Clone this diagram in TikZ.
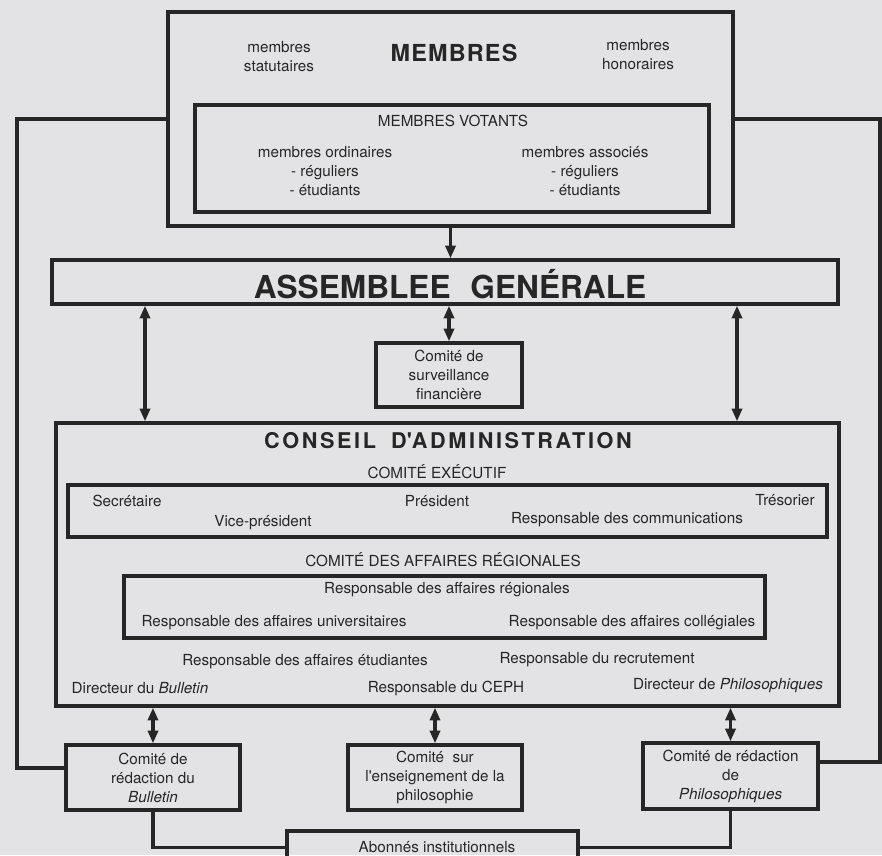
\documentclass[tikz,border=0pt]{standalone}
\usepackage{fontspec}
\setmainfont{TeX Gyre Heros}
\usetikzlibrary{positioning,fit,arrows.meta}
\definecolor{paper}{HTML}{E3E3E5}
\definecolor{ink}{HTML}{262626}
\tikzstyle{box} = [draw=ink, line width=1mm, inner sep=0pt]
\tikzstyle{wire} = [draw=ink, line width=1mm]
\tikzstyle{tip} = [wire, -{Triangle[length=3.8mm,width=3mm]}]
\tikzstyle{twoway} = [wire, {Triangle[length=3.8mm,width=3mm]}-{Triangle[length=3.8mm,width=3mm]}]
\tikzstyle{txt} = [text=ink, align=center, inner sep=0pt, font=\fontsize{13}{16.2}\selectfont]
\tikzstyle{head} = [text=ink, inner sep=0pt]

\begin{document}
\begin{tikzpicture}[x=0.3mm, y=-0.3mm]
\path[use as bounding box, fill=paper] (0,0) rectangle (882,855);
\clip (0,0) rectangle (882,855);

% boxes
\node (mem) [box, fit={(168,12) (733,226)}] {};
\node (vot) [box, fit={(195,105) (709,212)}] {};
\node (ag) [box, fit={(52,260) (838,304)}] {};
\node (surv) [box, fit={(376,343) (522,407)}] {};
\node (ca) [box, fit={(56,423) (839,706)}] {};
\node (exe) [box, fit={(68,485) (827,537)}] {};
\node (reg) [box, fit={(124,576) (765,638)}] {};
\node (bul) [box, fit={(66,745) (240,810)}] {};
\node (ens) [box, fit={(348,745) (522,810)}] {};
\node (phi) [box, fit={(643,743) (818,809)}] {};
\node (abo) [box, fit={(287,831) (578,864)}] {};

% membres
\node (memT) [head, font=\fontsize{20}{24}\selectfont\bfseries\addfontfeatures{LetterSpace=5}] at (454,53) {MEMBRES};
\node (stat) [txt] at (279,57) {membres\\statutaires};
\node (hon) [txt] at (638,55) {membres\\honoraires};
\node (votT) [txt] at (453,121) {MEMBRES VOTANTS};
\node (ord) [txt] at (325,171) {membres ordinaires\\- réguliers\\- étudiants};
\node (asso) [txt] at (585,171) {membres associés\\- réguliers\\- étudiants};

% assemblee
\node (agT) [head, font=\fontsize{27}{32}\selectfont\bfseries] at (450,284) {ASSEMBLEE\hspace{0.35em} GENÉRALE};
\node (survT) [txt] at (surv) {Comité de\\surveillance\\financière};

% conseil
\node (caT) [head, font=\fontsize{18.5}{22}\selectfont\bfseries\addfontfeatures{LetterSpace=12}] at (448,441) {CONSEIL\hspace{0.3em} D\textquotesingle ADMINISTRATION};
\node (exeT) [txt] at (437,472) {COMITÉ EXÉCUTIF};
\node (sec) [txt] at (127,501) {Secrétaire};
\node (pres) [txt] at (437,501) {Président};
\node (tres) [txt] at (785,500) {Trésorier};
\node (vice) [txt] at (263,523) {Vice-président};
\node (comm) [txt] at (627,520) {Responsable des communications};
\node (regT) [txt] at (443,560) {COMITÉ DES AFFAIRES RÉGIONALES};
\node (rreg) [txt] at (447,590) {Responsable des affaires régionales};
\node (univ) [txt] at (274,623) {Responsable des affaires universitaires};
\node (coll) [txt] at (632,623) {Responsable des affaires collégiales};
\node (etu) [txt] at (305,662) {Responsable des affaires étudiantes};
\node (recr) [txt] at (597,660) {Responsable du recrutement};
\node (dirb) [txt] at (140,688) {Directeur du \textit{Bulletin}};
\node (ceph) [txt] at (446,688) {Responsable du CEPH};
\node (dirp) [txt] at (728,686) {Directeur de \textit{Philosophiques}};

% comites
\node (bulT) [txt] at (bul) {Comité de\\rédaction du\\\textit{Bulletin}};
\node (ensT) [txt] at (ens) {Comité\ \ sur\\l\textquotesingle enseignement de la\\philosophie};
\node (phiT) [txt] at (phi) {Comité de rédaction\\de\\\textit{Philosophiques}};
\node (aboT) [txt] at (437,847) {Abonnés institutionnels};

% liens
\draw [tip] (mem.south) -- (mem.south |- ag.north);
\draw [twoway] (ag.south -| 145,0) -- (ca.north -| 145,0);
\draw [twoway] (ag.south -| 737,0) -- (ca.north -| 737,0);
\draw [twoway] (surv.north |- ag.south) -- (surv.north);
\draw [twoway] (bul.north |- ca.south) -- (bul.north);
\draw [twoway] (ens.north |- ca.south) -- (ens.north);
\draw [twoway] (phi.north |- ca.south) -- (phi.north);
\draw [wire] (mem.west) -| (17,768) -- (bul.west |- 0,768);
\draw [wire] (mem.east) -| (880,762) -- (phi.east |- 0,762);
\draw [wire] (bul.south) |- (abo.west);
\draw [wire] (phi.south) |- (abo.east);
\end{tikzpicture}
\end{document}
